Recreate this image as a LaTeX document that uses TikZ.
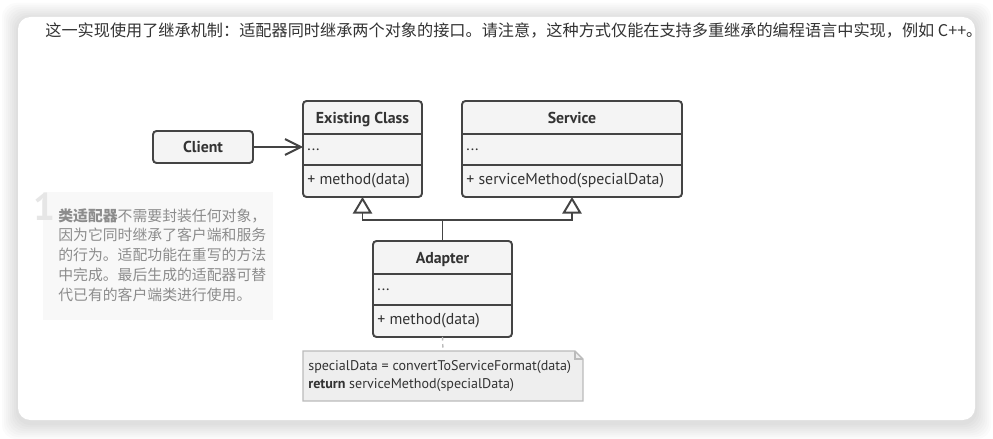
\documentclass[tikz,border=0pt]{standalone}
\usepackage{fontspec}
\setmainfont{PT Sans}
\newfontfamily\cjk{Noto Sans CJK SC}
\usetikzlibrary{arrows.meta,positioning}
\definecolor{edge}{HTML}{444444}
\definecolor{boxfill}{HTML}{F4F4F4}
\definecolor{ink}{HTML}{333333}
\definecolor{notefill}{HTML}{EEEEEE}
\definecolor{noteedge}{HTML}{BBBBBB}
\definecolor{tipfill}{HTML}{F8F8F8}
\definecolor{tipink}{HTML}{8C8C8C}
\definecolor{tipdigit}{HTML}{E6E6E6}
\tikzset{
  clsbox/.style={draw=edge, fill=boxfill, line width=1.1pt, rounded corners=2pt,
    inner sep=0pt, outer sep=0pt, anchor=north west},
  title/.style={font=\bfseries\fontsize{9}{11}\selectfont, text=ink},
  member/.style={font=\fontsize{9}{11}\selectfont, text=ink, anchor=west, inner sep=0pt},
  uses/.style={draw=edge, line width=1.1pt, -{Straight Barb[length=9pt,width=9pt]}},
  inherit/.style={draw=edge, line width=1.1pt, -{Triangle[open,length=9.5pt,width=11pt,fill=white]}},
}
\begin{document}
\begin{tikzpicture}[x=0.02cm,y=-0.02cm]
  \useasboundingbox (0,0) rectangle (993,439);
  % card with a soft shadow
  \foreach \s in {2,4,...,16}
    \fill[black, opacity=0.014, rounded corners=8pt] (18-\s,19-\s) rectangle (975+\s,423+\s);
  \fill[white, rounded corners=7pt] (18,17) rectangle (975,420);
  \node[anchor=base west, inner sep=0pt, font=\cjk\fontsize{9.2}{11}\selectfont, text=ink] (intro) at (45,37)
    {这一实现使用了继承机制：适配器同时继承两个对象的接口。请注意，这种方式仅能在支持多重继承的编程语言中实现，例如 C++。};

  % side remark
  \fill[tipfill] (43,192) rectangle (273,320);
  \node[font=\bfseries\fontsize{22}{22}\selectfont, text=tipdigit, inner sep=0pt] (tipnum) at (44,207) {1};
  \node[anchor=north west, inner sep=0pt, align=left, text=tipink,
    font=\cjk\fontsize{8.45}{11.3}\selectfont] (tip) at (58,208)
    {\textbf{类适配器}不需要封装任何对象，\\因为它同时继承了客户端和服务\\的行为。适配功能在重写的方法\\中完成。最后生成的适配器可替\\代已有的客户端类进行使用。};

  % classes
  \node[clsbox, minimum width=2cm, minimum height=0.64cm, title] (client) at (153,131) {Client};
  \foreach \name/\x/\y/\w/\title/\op in {existing/303/101/119/Existing Class/+ method(data),
      service/462/101/220/Service/+ serviceMethod(specialData),
      adapter/373/241/139/Adapter/+ method(data)} {
    \node[clsbox, minimum width=\w*0.02cm, minimum height=1.92cm] (\name) at (\x,\y) {};
    \draw[edge, line width=1.1pt] ([shift={(0,33)}]\name.north west) -- ([shift={(0,33)}]\name.north east);
    \draw[edge, line width=1.1pt] ([shift={(0,64)}]\name.north west) -- ([shift={(0,64)}]\name.north east);
    \node[title, anchor=base, inner sep=0pt] (\name-title) at ([shift={(0,22)}]\name.north) {\title};
    \node[member] (\name-attr) at ([shift={(4,48.5)}]\name.north west) {...};
    \node[member] (\name-op) at ([shift={(4,80)}]\name.north west) {\op};
  }

  \draw[uses] (client.east) -- (client.east -| existing.west);
  \draw[inherit] (adapter.north) -- ++(0,-21) -| (existing.south);
  \draw[inherit] (adapter.north) -- ++(0,-21) -| (service.south);

  % note
  \node[anchor=north west, minimum width=5.6cm, minimum height=1cm, inner sep=0pt, outer sep=0pt] (note) at (303,351) {};
  \filldraw[fill=notefill, draw=noteedge, line width=0.8pt]
    (note.north west) -- ([shift={(-8,0)}]note.north east) -- ([shift={(0,8)}]note.north east)
    -- (note.south east) -- (note.south west) -- cycle;
  \draw[noteedge, line width=0.8pt] ([shift={(-8,0)}]note.north east) -- ([shift={(-8,8)}]note.north east) -- ([shift={(0,8)}]note.north east);
  \draw[noteedge, line width=0.8pt, dash pattern=on 2pt off 2pt] (adapter.south) -- (note.north);
  \node[anchor=north west, inner sep=0pt, align=left, text=ink, font=\fontsize{8}{10.2}\selectfont] (code)
    at ([shift={(5,9)}]note.north west)
    {specialData = convertToServiceFormat(data)\\\textbf{return} serviceMethod(specialData)};
\end{tikzpicture}
\end{document}
